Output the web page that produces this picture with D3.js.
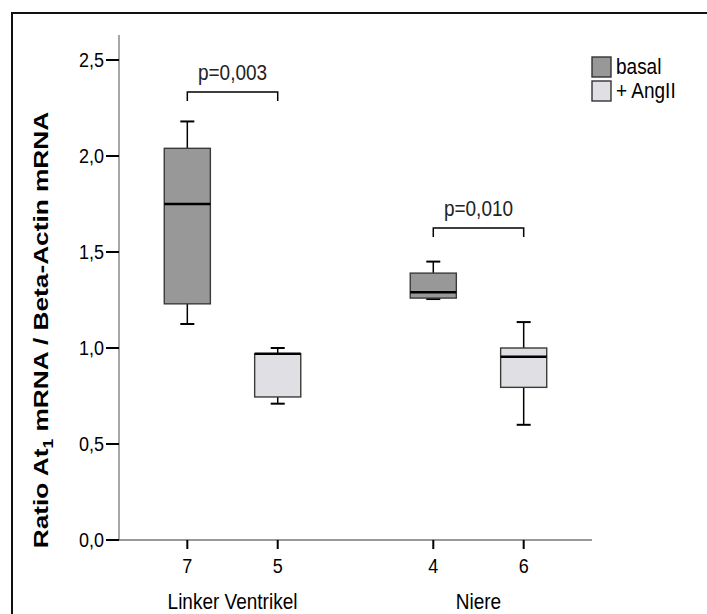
<!DOCTYPE html>
<html><head><meta charset="utf-8">
<script src="https://cdn.jsdelivr.net/npm/d3@7"></script>
<style>body{margin:0;background:#fff}svg{display:block}text{font-family:"Liberation Sans",Arial,sans-serif}</style>
</head><body>
<svg id="c" width="707" height="614"></svg>
<script>
const groups = ["Linker Ventrikel", "Niere"];
const series = ["basal", "+ AngII"];
const nLabels = ["7", "5", "4", "6"];
const whiskerLow  = [1.125, 0.71, 1.255, 0.60];
const q1          = [1.23, 0.745, 1.26, 0.795];
const median      = [1.75, 0.97, 1.29, 0.955];
const q3          = [2.04, 0.97, 1.39, 1.00];
const whiskerHigh = [2.18, 1.00, 1.45, 1.135];
const yTicks = [0, 0.5, 1.0, 1.5, 2.0, 2.5];
const pLabels = ["p=0,003", "p=0,010"];
const bracketY = [2.333, 1.625];
const colors = ["#989898", "#e0e0e4"];

const SY = 1.15; // vertical glyph stretch of the reference
const svg = d3.select("#c");
function stext(x, y, str, size, anchor){
  return svg.append("text").attr("transform",`translate(${x},${y}) scale(1,${SY})`)
    .attr("text-anchor",anchor||"middle").attr("font-size",size).attr("fill","#000").text(str);
}
// frame
svg.append("path").attr("d","M12,620 V13 H710").attr("fill","none").attr("stroke","#111").attr("stroke-width",2);

const y = d3.scaleLinear().domain([0,2.5]).range([540,60]);
const xOuter = d3.scaleBand().domain(groups).range([119,592]).paddingInner(0.265).paddingOuter(0.094);
const xInner = d3.scaleBand().domain(series).range([0,xOuter.bandwidth()]).paddingInner(0.49).paddingOuter(0.245);

const boxes = nLabels.map((n,i)=>({n, g:groups[Math.floor(i/2)], s:series[i%2], i}));
const cx = d => xOuter(d.g) + xInner(d.s) + xInner.bandwidth()/2;

// axes
svg.append("line").attr("x1",119).attr("x2",119).attr("y1",35).attr("y2",540).attr("stroke","#777").attr("stroke-width",1.3);
svg.append("line").attr("x1",119).attr("x2",592).attr("y1",540).attr("y2",540).attr("stroke","#777").attr("stroke-width",1.3);

yTicks.forEach(t=>{
  svg.append("line").attr("x1",106).attr("x2",119).attr("y1",y(t)).attr("y2",y(t)).attr("stroke","#000").attr("stroke-width",2);
  stext(104, y(t)+6.5, d3.format(".1f")(t).replace(".",","), 18, "end");
});

// x ticks
boxes.forEach(d=>{
  svg.append("line").attr("x1",cx(d)).attr("x2",cx(d)).attr("y1",540).attr("y2",549).attr("stroke","#000").attr("stroke-width",2);
  stext(cx(d), 573, d.n, 18);
});
groups.forEach(g=>{
  stext(xOuter(g)+xOuter.bandwidth()/2, 609, g, 19);
});

// boxes
const bw = xInner.bandwidth();
boxes.forEach(d=>{
  const i=d.i, c=cx(d);
  svg.append("line").attr("x1",c).attr("x2",c).attr("y1",y(whiskerHigh[i])).attr("y2",y(q3[i])).attr("stroke","#000").attr("stroke-width",1.5);
  svg.append("line").attr("x1",c).attr("x2",c).attr("y1",y(whiskerLow[i])).attr("y2",y(q1[i])).attr("stroke","#000").attr("stroke-width",1.5);
  svg.append("line").attr("x1",c-7).attr("x2",c+7).attr("y1",y(whiskerHigh[i])).attr("y2",y(whiskerHigh[i])).attr("stroke","#000").attr("stroke-width",2);
  svg.append("line").attr("x1",c-7).attr("x2",c+7).attr("y1",y(whiskerLow[i])).attr("y2",y(whiskerLow[i])).attr("stroke","#000").attr("stroke-width",2);
  svg.append("rect").attr("x",c-bw/2).attr("y",y(q3[i])).attr("width",bw).attr("height",y(q1[i])-y(q3[i]))
    .attr("fill",colors[i%2]).attr("stroke","#3a3a3a").attr("stroke-width",1.4);
  svg.append("line").attr("x1",c-bw/2).attr("x2",c+bw/2).attr("y1",y(median[i])).attr("y2",y(median[i])).attr("stroke","#000").attr("stroke-width",2.5);
});

// significance brackets
groups.forEach((g,k)=>{
  const a = cx(boxes[k*2]), b = cx(boxes[k*2+1]);
  const by = y(bracketY[k]);
  svg.append("path").attr("d",`M${a},${by+9} V${by} H${b} V${by+9}`).attr("fill","none").attr("stroke","#000").attr("stroke-width",1.5);
  stext((a+b)/2, by-12, pLabels[k], 19).attr("fill","#222");
});

// legend
series.forEach((s,i)=>{
  const ly = 57 + i*24;
  svg.append("rect").attr("x",592).attr("y",ly).attr("width",19).attr("height",20).attr("fill",colors[i]).attr("stroke","#333").attr("stroke-width",1.4);
  stext(616, ly+17, s, 19, "start");
});

// y label
const yl = svg.append("text").attr("transform","translate(48,330) rotate(-90) scale(1.25,1)").attr("text-anchor","middle")
  .attr("font-size",21).attr("font-weight","bold");
yl.append("tspan").text("Ratio At");
yl.append("tspan").attr("font-size",14).attr("dy",5).text("1");
yl.append("tspan").attr("dy",-5).text(" mRNA / Beta-Actin mRNA");
</script>
</body></html>
